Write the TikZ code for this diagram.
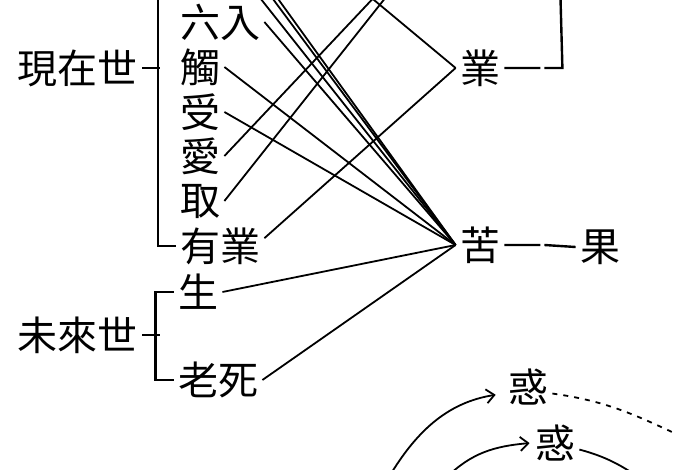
\documentclass[tikz,border=0pt]{standalone}
\usepackage{fontspec}
\setmainfont{Noto Sans CJK TC}
\usetikzlibrary{arrows.meta}
\begin{document}
\begin{tikzpicture}[x=0.5pt,y=-0.5pt,
	lbl/.style={inner sep=2pt,font=\fontsize{20pt}{20pt}\selectfont},
	brk/.style={line width=1.2pt},
	lnk/.style={line width=0.9pt},
	tip/.style={-{Straight Barb[length=4pt,width=7pt]}}]
	\useasboundingbox (0,0) rectangle (700,470);
	\clip (0,0) rectangle (700,470);
	\node[lbl] (xianzai) at (78,68) {現在世};
	\node[lbl] (weilai) at (78,335) {未來世};
	\node[lbl] (liuru) at (220,22) {六入};
	\node[lbl] (chu) at (200,67) {觸};
	\node[lbl] (shou) at (200,112) {受};
	\node[lbl] (ai) at (200,156) {愛};
	\node[lbl] (qu) at (200,201) {取};
	\node[lbl] (youye) at (220,246) {有業};
	\node[lbl] (sheng) at (198,292) {生};
	\node[lbl] (laosi) at (218,380) {老死};
	\node[lbl] (ye) at (480,68) {業};
	\node[lbl] (ku) at (480,245) {苦};
	\node[lbl] (guo) at (600,247) {果};
	\node[lbl] (huoa) at (528,387) {惑};
	\node[lbl] (huob) at (555,443) {惑};
	\coordinate (shi) at (230,-40);
	\coordinate (ming) at (244,-40);
	\coordinate (se) at (250,-40);
	\coordinate (xing) at (326,-40);
	\coordinate (huotop) at (447,-80);
	\coordinate (xianzaitop) at (158,-20);
	\coordinate (yetop) at (560,-20);
	\coordinate (arca) at (386,482);
	\coordinate (arcb) at (446,478);
	\coordinate (arcc) at (650,485);
	\coordinate (huoend) at (672,432);
	\draw[brk] (xianzai.east) -- ++(18,0);
	\draw[brk] (xianzaitop) |- (youye.west);
	\draw[brk] (weilai.east) -- ++(18,0);
	\draw[brk] (sheng.west) -- ++(-18,0) |- (laosi.west);
	\draw[brk] (ye.east) -- ++(36,0) ++(4,0) -- ++(18,0) -- (yetop);
	\draw[brk] (ku.east) -- ++(36,0) ++(4,0) -- (guo.west);
	\draw[lnk] (shi) -- (ku.west);
	\draw[lnk] (ming) -- (ku.west);
	\draw[lnk] (se) -- (ku.west);
	\draw[lnk] (liuru.east) -- (ku.west);
	\draw[lnk] (chu.east) -- (ku.west);
	\draw[lnk] (shou.east) -- (ku.west);
	\draw[lnk] (sheng.east) -- (ku.west);
	\draw[lnk] (laosi.east) -- (ku.west);
	\draw[lnk] (xing) -- (ye.west);
	\draw[lnk] (youye.10) -- (ye.west);
	\draw[lnk] (ai.east) -- (huotop);
	\draw[lnk] (qu.east) -- (huotop);
	\draw[lnk,tip,shorten >=4pt] (arca) to[out=60,in=189] (huoa.195);
	\draw[lnk,tip,shorten >=0.5pt] (arcb) to[out=45,in=185] (huob.west);
	\draw[lnk] (huob.-15) to[out=-15,in=145] (arcc);
	\draw[lnk,dash pattern=on 2.5pt off 3pt] (huoa.-15) to[out=-8,in=155] (huoend);
\end{tikzpicture}
\end{document}
